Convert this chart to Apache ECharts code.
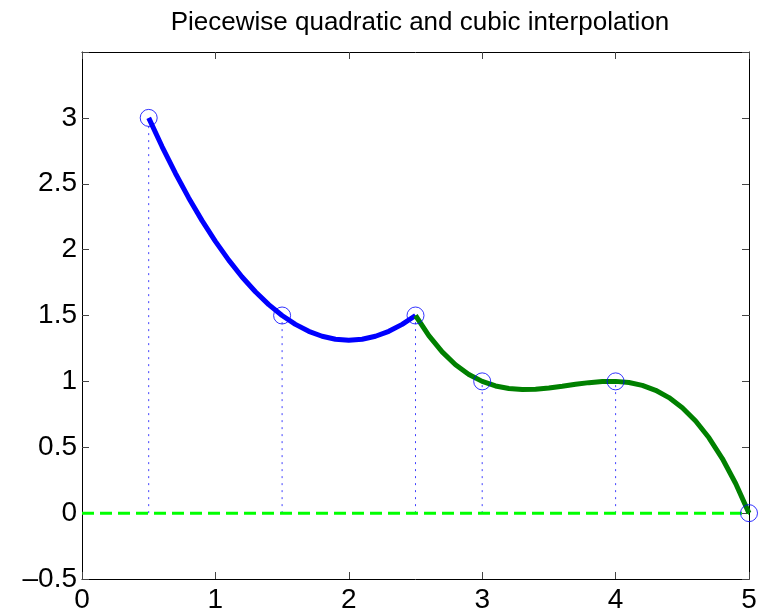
<!DOCTYPE html>
<html>
<head>
<meta charset="utf-8">
<title>Piecewise interpolation</title>
<script src="https://cdn.jsdelivr.net/npm/echarts@6/dist/echarts.min.js"></script>
<style>
  html, body { margin: 0; padding: 0; background: #fff; }
  #main { width: 763px; height: 610px; }
</style>
</head>
<body>
<div id="main"></div>
<script>
// data points (circles + stems)
const pointX = [0.5, 1.5, 2.5, 3, 4, 5];
const pointY = [3, 1.5, 1.5, 1, 1, 0];

// quadratic piece
const quadX = [0.5, 0.6, 0.7, 0.8, 0.9, 1.0, 1.1, 1.2, 1.3, 1.4, 1.5,
  1.6, 1.7, 1.8, 1.9, 2.0, 2.1, 2.2, 2.3, 2.4, 2.5];
const quadY = [3, 2.7825, 2.58, 2.3925, 2.22, 2.0625, 1.92, 1.7925, 1.68, 1.5825, 1.5,
  1.4325, 1.38, 1.3425, 1.32, 1.3125, 1.32, 1.3425, 1.38, 1.4325, 1.5];

// cubic piece
const cubicX = [2.5, 2.6, 2.7, 2.8, 2.9, 3.0, 3.1, 3.2, 3.3, 3.4, 3.5, 3.6, 3.7,
  3.8, 3.9, 4.0, 4.1, 4.2, 4.3, 4.4, 4.5, 4.6, 4.7, 4.8, 4.9, 5.0];
const cubicY = [1.5, 1.3472, 1.2236, 1.1264, 1.0528, 1.0, 0.9652, 0.9456, 0.9384, 0.9408,
  0.95, 0.9632, 0.9776, 0.9904, 0.9988, 1.0, 0.9912, 0.9696, 0.9324, 0.8768, 0.8,
  0.6992, 0.5716, 0.4144, 0.2248, 0];

// dashed zero line
const baseX = [0, 5];
const baseY = [0, 0];

const xTicks = [0, 1, 2, 3, 4, 5];
const yTicks = [-0.5, 0, 0.5, 1, 1.5, 2, 2.5, 3];

const zip = (xs, ys) => xs.map((x, i) => [x, ys[i]]);

const chart = echarts.init(document.getElementById("main"));

const font = "Liberation Sans, Arial, Helvetica, sans-serif";

const xBase = {
  type: "value",
  min: xTicks[0],
  max: xTicks[xTicks.length - 1],
  interval: 1,
  splitLine: { show: false },
  axisLine: { show: true, onZero: false, lineStyle: { color: "#000", width: 1 } },
  axisTick: { show: true, inside: true, length: 7, lineStyle: { color: "#444" } },
};
const yBase = {
  type: "value",
  min: yTicks[0],
  max: 3.5,
  interval: 0.5,
  splitLine: { show: false },
  axisLine: { show: true, onZero: false, lineStyle: { color: "#000", width: 1 } },
  axisTick: { show: true, inside: true, length: 7, lineStyle: { color: "#444" } },
};

// stems: one small line series for each point
const stems = pointX.map((x, i) => ({
  type: "line",
  data: [[x, 0], [x, pointY[i]]],
  showSymbol: false,
  silent: true,
  lineStyle: { color: "rgba(0,0,255,0.75)", width: 1, type: [2, 5] },
  z: 1,
}));

const option = {
  animation: false,
  backgroundColor: "#fff",
  title: {
    text: "Piecewise quadratic and cubic interpolation",
    left: 415,
    textAlign: "center",
    top: 5,
    textStyle: { fontFamily: font, fontSize: 26, fontWeight: "normal", color: "#000" },
  },
  grid: { left: 82, right: 14, top: 52, bottom: 31, containLabel: false, outerBoundsMode: "none" },
  xAxis: [
    Object.assign({}, xBase, {
      position: "bottom",
      axisLabel: { show: true, margin: 7, color: "#000", fontFamily: font, fontSize: 28 },
    }),
    Object.assign({}, xBase, { position: "top", axisLabel: { show: false } }),
  ],
  yAxis: [
    Object.assign({}, yBase, {
      position: "left",
      axisLabel: {
        show: true, margin: 5, color: "#000", fontFamily: font, fontSize: 28,
        formatter: v => (v > 3.01 ? "" : String(v).replace("-", "\u2013")),
      },
    }),
    Object.assign({}, yBase, { position: "right", axisLabel: { show: false } }),
  ],
  series: stems.concat([
    {
      type: "line",
      data: zip(baseX, baseY),
      showSymbol: false,
      lineStyle: { color: "#00ff00", width: 3, type: [12, 6] },
      z: 2,
    },
    {
      type: "line",
      data: zip(quadX, quadY),
      showSymbol: false,
      lineStyle: { color: "#0000ff", width: 5 },
      z: 3,
    },
    {
      type: "line",
      data: zip(cubicX, cubicY),
      showSymbol: false,
      lineStyle: { color: "#008000", width: 5 },
      z: 3,
    },
    {
      type: "scatter",
      data: zip(pointX, pointY),
      symbol: "circle",
      symbolSize: 17,
      itemStyle: { color: "rgba(0,0,0,0)", borderColor: "#0000ff", borderWidth: 1 },
      z: 4,
    },
  ]),
};

chart.setOption(option);
</script>
</body>
</html>
